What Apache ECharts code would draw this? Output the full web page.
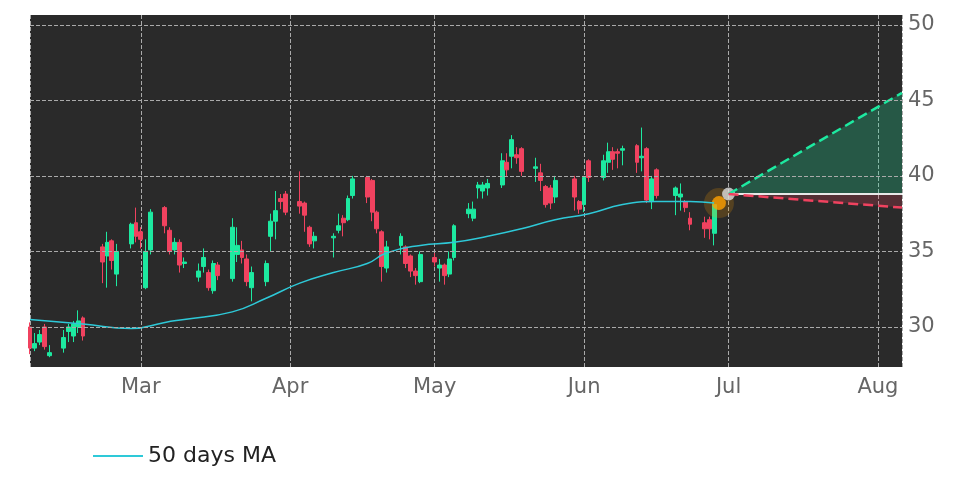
<!DOCTYPE html>
<html>
<head>
<meta charset="utf-8">
<script src="https://cdn.jsdelivr.net/npm/echarts@6/dist/echarts.min.js"></script>
<style>html,body{margin:0;padding:0;background:#fff}#main{width:972px;height:486px}</style>
</head>
<body>
<div id="main"></div>
<script>
// trading days and candles [open, close, low, high]
var dates = [
 '2023-02-06','2023-02-07','2023-02-08','2023-02-09','2023-02-10',
 '2023-02-13','2023-02-14','2023-02-15','2023-02-16','2023-02-17',
 '2023-02-21','2023-02-22','2023-02-23','2023-02-24',
 '2023-02-27','2023-02-28','2023-03-01','2023-03-02','2023-03-03',
 '2023-03-06','2023-03-07','2023-03-08','2023-03-09','2023-03-10',
 '2023-03-13','2023-03-14','2023-03-15','2023-03-16','2023-03-17',
 '2023-03-20','2023-03-21','2023-03-22','2023-03-23','2023-03-24',
 '2023-03-27','2023-03-28','2023-03-29','2023-03-30','2023-03-31',
 '2023-04-03','2023-04-04','2023-04-05','2023-04-06',
 '2023-04-10','2023-04-11','2023-04-12','2023-04-13','2023-04-14',
 '2023-04-17','2023-04-18','2023-04-19','2023-04-20','2023-04-21',
 '2023-04-24','2023-04-25','2023-04-26','2023-04-27','2023-04-28',
 '2023-05-01','2023-05-02','2023-05-03','2023-05-04','2023-05-05',
 '2023-05-08','2023-05-09','2023-05-10','2023-05-11','2023-05-12',
 '2023-05-15','2023-05-16','2023-05-17','2023-05-18','2023-05-19',
 '2023-05-22','2023-05-23','2023-05-24','2023-05-25','2023-05-26',
 '2023-05-30','2023-05-31','2023-06-01','2023-06-02',
 '2023-06-05','2023-06-06','2023-06-07','2023-06-08','2023-06-09',
 '2023-06-12','2023-06-13','2023-06-14','2023-06-15','2023-06-16',
 '2023-06-20','2023-06-21','2023-06-22','2023-06-23',
 '2023-06-26','2023-06-27','2023-06-28'
];
var candles = [
 [30.0,28.6,28.2,30.3],[28.6,28.9,28.4,29.6],[29.0,29.5,28.8,29.8],[30.0,28.7,28.5,30.2],[28.1,28.3,28.0,28.8],
 [28.6,29.3,28.3,29.8],[29.7,30.0,29.0,30.2],[29.4,30.2,29.0,30.4],[30.0,30.4,29.6,31.1],[30.6,29.4,29.1,30.7],
 [35.3,34.3,32.9,35.5],[34.7,35.6,32.6,36.3],[35.7,34.4,33.8,35.8],[33.5,35.0,32.7,35.5],
 [35.5,36.8,35.2,36.9],[36.9,36.0,35.6,37.9],[36.3,35.8,35.2,36.6],[32.6,35.0,32.5,35.8],[35.1,37.6,34.8,37.8],
 [37.9,36.7,36.2,38.0],[36.4,35.0,34.8,36.6],[35.1,35.6,34.8,35.9],[35.6,34.1,33.6,35.8],[34.2,34.3,33.9,34.6],
 [33.3,33.7,33.0,34.2],[34.0,34.6,33.6,35.2],[33.6,32.6,32.4,33.8],[32.4,34.2,32.2,34.4],[34.1,33.4,33.1,34.3],
 [33.2,36.6,33.0,37.2],[34.8,35.4,34.3,36.6],[35.1,34.6,34.2,35.7],[34.5,33.0,32.7,34.8],[32.6,33.6,31.7,34.0],
 [33.0,34.2,32.7,34.4],[36.0,37.0,35.0,37.5],[37.0,37.7,35.8,39.0],[38.5,38.3,37.8,38.8],[38.8,37.6,37.4,39.0],
 [38.3,38.0,37.5,40.3],[38.2,37.4,36.3,38.3],[36.6,35.5,35.3,36.7],[35.7,36.0,35.2,36.3],
 [35.9,36.0,34.6,36.2],[36.4,36.7,36.2,37.5],[37.2,36.9,36.0,37.4],[37.1,38.5,37.0,38.7],[38.7,39.8,38.5,40.0],
 [39.9,38.6,38.2,40.0],[39.7,37.6,37.0,39.8],[37.6,36.5,36.2,37.7],[36.3,34.0,33.0,36.4],[33.9,35.3,33.6,35.7],
 [35.4,36.0,34.8,36.2],[35.3,34.2,33.9,35.4],[34.7,33.7,33.3,34.8],[33.7,33.4,32.8,33.9],[33.0,34.8,32.9,35.0],
 [34.6,34.3,34.0,34.9],[33.9,34.1,33.0,34.5],[34.1,33.4,32.8,34.2],[33.5,34.5,33.3,35.0],[34.6,36.7,34.4,36.8],
 [37.5,37.8,37.2,38.2],[37.2,37.8,37.0,38.3],[39.2,39.4,38.5,39.6],[39.0,39.4,38.5,39.6],[39.2,39.5,38.7,39.8],
 [39.4,41.0,39.2,41.5],[40.9,40.4,40.0,41.5],[41.3,42.4,40.5,42.7],[41.4,41.2,40.8,41.9],[41.8,40.3,40.0,41.9],
 [40.5,40.6,39.6,41.2],[40.2,39.7,39.0,40.8],[39.3,38.1,37.9,39.4],[39.2,38.2,37.8,39.4],[38.6,39.7,38.2,40.0],
 [39.8,38.6,37.7,40.0],[38.3,37.8,37.5,38.4],[38.1,39.9,37.6,40.0],[41.0,39.9,39.6,41.1],
 [39.9,41.0,39.7,41.4],[40.9,41.6,40.2,42.2],[41.6,41.1,40.4,41.9],[41.6,41.5,40.5,41.8],[41.7,41.8,40.7,42.0],
 [42.0,40.9,40.2,42.1],[41.2,41.3,40.3,43.2],[41.8,38.4,38.2,41.9],[38.3,39.8,37.8,40.0],[40.4,38.7,38.5,40.5],
 [38.7,39.2,37.4,39.3],[38.6,38.8,37.7,39.5],[38.3,37.9,37.6,38.4],[37.2,36.8,36.4,37.6],
 [36.9,36.5,35.9,37.3],[37.1,36.5,35.8,37.3],[36.2,38.1,35.4,38.3]
];
// 50 days moving average, read at sample dates
var maDates = ['2023-02-06','2023-02-17','2023-02-27','2023-03-06','2023-03-10','2023-03-20','2023-03-27','2023-04-03','2023-04-10','2023-04-17','2023-04-21','2023-04-28','2023-05-05','2023-05-12','2023-05-19','2023-05-26','2023-06-02','2023-06-09','2023-06-16','2023-06-23','2023-06-28'];
var maValues = [30.5,30.2,29.9,30.3,30.5,31.0,31.9,32.9,33.6,34.2,34.9,35.4,35.6,36.0,36.5,37.1,37.5,38.1,38.3,38.3,38.2];
// projection
var projDates = ['2023-07-01','2023-08-06'];
var projUpper = [38.8,45.5];
var projMid = [38.8,38.8];
var projLower = [38.8,37.9];
var lastPoint = ['2023-06-29',38.2];
var nowPoint = ['2023-07-01',38.8];
var yTicks = [30,35,40,45,50];

var chart = echarts.init(document.getElementById('main'));
var candleData = dates.map(function(d,i){ return [d].concat(candles[i]); });
var maData = maDates.map(function(d,i){ return [d, maValues[i]]; });
function pairs(vals){ return projDates.map(function(d,i){ return [d, vals[i]]; }); }
var greenDiff = projDates.map(function(d,i){ return [d, projUpper[i]-projMid[i]]; });
var redDiff = projDates.map(function(d,i){ return [d, projMid[i]-projLower[i]]; });

chart.setOption({
  backgroundColor:'#fff',
  animation:false,
  grid:{left:30,right:70,top:15,bottom:119,show:true,backgroundColor:'#2a2a2a',borderWidth:0},
  legend:{left:88,bottom:14,itemWidth:50,itemHeight:2,icon:'rect',
    textStyle:{fontSize:22,color:'#222',fontFamily:'DejaVu Sans'},data:['50 days MA']},
  xAxis:{type:'time',min:'2023-02-06',max:'2023-08-06',splitNumber:6,
    axisLine:{show:false},axisTick:{show:false},
    axisLabel:{fontSize:21,color:'#666',fontFamily:'DejaVu Sans',margin:10,
      formatter:function(v){ var d=new Date(v); return d.getDate()===1 ? ['Jan','Feb','Mar','Apr','May','Jun','Jul','Aug','Sep','Oct','Nov','Dec'][d.getMonth()] : ''; }},
    splitLine:{show:true,lineStyle:{color:'#aaa',type:'dashed',width:1}}},
  yAxis:{type:'value',position:'right',min:27.35,max:50.65,interval:5,
    axisLine:{show:false},axisTick:{show:true,length:6,lineStyle:{color:'#666'}},
    axisLabel:{fontSize:21,color:'#666',fontFamily:'DejaVu Sans',margin:6,
      customValues:yTicks},
    axisTick:{customValues:yTicks,length:6,lineStyle:{color:'#666'}},
    splitLine:{show:false}},
  series:[
    {type:'line',name:'gridY',data:[],markLine:{silent:true,symbol:'none',label:{show:false},
      lineStyle:{color:'#aaa',type:'dashed',width:1},data:yTicks.map(function(v){return {yAxis:v};})}},
    {type:'candlestick',data:candleData,barMaxWidth:5,
      itemStyle:{color:'#1de9a0',color0:'#f0425f',borderColor:'#1de9a0',borderColor0:'#f0425f',borderWidth:1}},
    {type:'line',name:'50 days MA',data:maData,smooth:true,showSymbol:false,
      lineStyle:{color:'#2ec9d8',width:1.5},itemStyle:{color:'#2ec9d8'}},
    {type:'line',data:pairs(projMid),stack:'g',showSymbol:false,lineStyle:{color:'#e8e8e8',width:2}},
    {type:'line',data:greenDiff,stack:'g',showSymbol:false,lineStyle:{opacity:0},areaStyle:{color:'rgba(29,233,160,0.35)'}},
    {type:'line',data:pairs(projLower),stack:'r',showSymbol:false,lineStyle:{opacity:0}},
    {type:'line',data:redDiff,stack:'r',showSymbol:false,lineStyle:{opacity:0},areaStyle:{color:'rgba(240,66,95,0.3)'}},
    {type:'line',data:pairs(projUpper),showSymbol:false,lineStyle:{color:'#1de9a0',width:2.5,type:'dashed'}},
    {type:'line',data:pairs(projLower),showSymbol:false,lineStyle:{color:'#f0425f',width:2.5,type:'dashed'}},
    {type:'scatter',data:[lastPoint],symbolSize:30,itemStyle:{color:'rgba(255,160,0,0.25)'}},
    {type:'scatter',data:[lastPoint],symbolSize:14,itemStyle:{color:'#ffa000'}},
    {type:'scatter',data:[nowPoint],symbolSize:13,itemStyle:{color:'#ddd'}}
  ]
});
</script>
</body>
</html>
